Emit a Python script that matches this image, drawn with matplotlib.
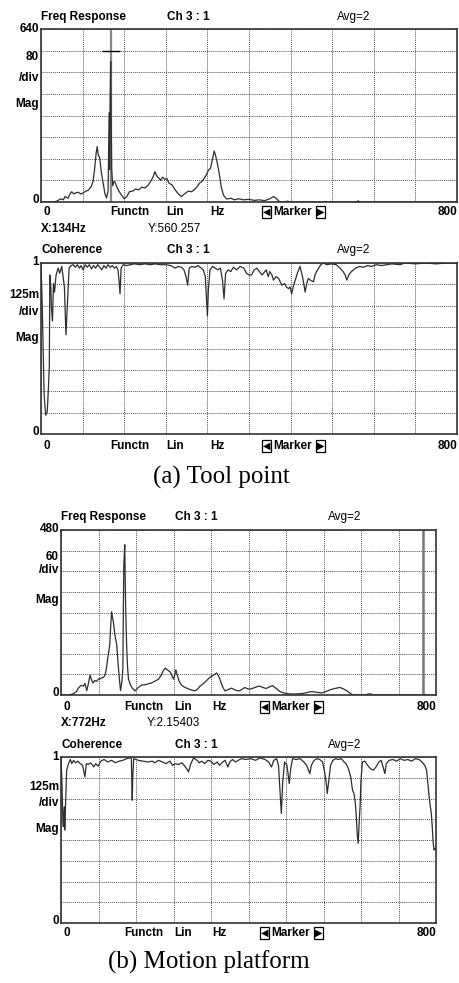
import matplotlib
matplotlib.use("Agg")
import matplotlib.pyplot as plt
import numpy as np

W, H = 459, 983

# ---------------------------------------------------------------------------
# Data: (frequency Hz, value)
# ---------------------------------------------------------------------------

fr_tool = [
    (0, 0), (25, 0), (30, 3), (38, 12), (43, 8), (46, 20), (52, 14), (56, 30), (59, 38),
    (63, 30), (67, 34), (72, 36), (76, 30), (80, 32), (86, 40), (91, 44), (96, 55),
    (100, 75), (103, 120), (106, 180), (108, 205), (110, 175), (113, 163), (116, 110),
    (120, 65), (123, 30), (126, 15), (129, 40), (131, 330), (132, 120), (133, 390),
    (134, 519), (135, 300), (136, 120), (138, 60), (140, 75), (142, 75), (146, 55),
    (150, 40), (155, 25), (160, 12), (165, 20), (170, 38), (176, 40), (182, 48),
    (188, 45), (194, 55), (200, 52), (206, 62), (212, 80), (216, 95), (219, 112),
    (223, 95), (227, 88), (230, 80), (234, 92), (238, 84), (242, 87), (246, 70),
    (252, 63), (258, 45), (264, 30), (270, 20), (276, 30), (283, 40), (290, 38),
    (296, 48), (301, 58), (305, 70), (309, 75), (313, 85), (318, 100), (322, 118),
    (326, 125), (330, 160), (333, 189), (336, 170), (340, 135), (344, 90), (347, 52),
    (351, 25), (357, 11), (365, 14), (372, 8), (380, 12), (390, 8), (400, 10),
    (410, 6), (420, 8), (430, 5), (440, 12), (447, 20), (452, 14), (458, 2), (466, 0),
    (474, 3), (480, 0), (605, 0), (610, 4), (614, 0), (800, 0),
]

coh_tool = [
    (0, 0.99), (2, 0.80), (4, 0.50), (6, 0.23), (9, 0.11), (12, 0.13), (14, 0.25),
    (16, 0.40), (17, 0.93), (19, 0.85), (20, 0.74), (22, 0.66), (24, 0.88), (26, 0.83),
    (29, 0.93), (33, 0.97), (36, 0.94), (40, 0.98), (45, 0.86), (48, 0.58), (51, 0.77),
    (54, 0.97), (58, 0.985), (62, 0.99), (66, 0.975), (70, 0.99), (74, 0.97),
    (77, 0.985), (81, 0.96), (85, 0.99), (89, 0.975), (93, 0.99), (97, 0.965),
    (101, 0.985), (105, 0.97), (109, 0.99), (113, 0.975), (117, 0.96), (121, 0.985),
    (125, 0.97), (129, 0.99), (133, 0.975), (137, 0.985), (141, 0.97), (145, 0.98),
    (148, 0.96), (150, 0.90), (152, 0.82), (154, 0.97), (158, 0.99), (165, 0.985),
    (172, 0.99), (180, 0.995), (190, 0.99), (200, 0.995), (210, 0.99), (220, 0.995),
    (230, 0.99), (240, 0.99), (250, 0.985), (258, 0.97), (264, 0.98), (270, 0.975),
    (275, 0.96), (279, 0.92), (282, 0.87), (285, 0.97), (290, 0.98), (296, 0.975),
    (302, 0.985), (308, 0.97), (312, 0.96), (316, 0.92), (318, 0.80), (320, 0.69),
    (322, 0.85), (325, 0.96), (330, 0.98), (335, 0.97), (340, 0.96), (345, 0.97),
    (349, 0.90), (352, 0.79), (355, 0.94), (360, 0.96), (365, 0.95), (370, 0.975),
    (376, 0.96), (383, 0.98), (390, 0.97), (395, 0.94), (400, 0.93), (405, 0.93),
    (410, 0.96), (415, 0.97), (420, 0.95), (425, 0.93), (428, 0.94), (433, 0.96),
    (437, 0.92), (440, 0.95), (444, 0.93), (447, 0.90), (452, 0.92), (457, 0.91),
    (460, 0.89), (463, 0.87), (468, 0.88), (472, 0.86), (476, 0.85), (479, 0.86),
    (482, 0.82), (485, 0.86), (488, 0.89), (493, 0.94), (498, 0.98), (503, 0.92),
    (508, 0.83), (511, 0.88), (514, 0.91), (518, 0.90), (524, 0.89), (527, 0.93),
    (530, 0.95), (534, 0.97), (538, 0.99), (543, 1.0), (550, 0.99), (558, 0.995),
    (568, 0.99), (575, 0.97), (581, 0.95), (585, 0.93), (588, 0.90), (592, 0.93),
    (597, 0.95), (605, 0.97), (613, 0.98), (620, 0.975), (628, 0.985), (636, 0.98),
    (645, 0.99), (655, 0.985), (665, 0.99), (675, 0.995), (690, 0.99), (700, 1.0),
    (720, 0.995), (740, 1.0), (760, 0.995), (780, 1.0), (800, 1.0),
]

fr_platform = [
    (0, 0), (16, 0), (25, 3), (33, 10), (37, 20), (43, 28), (48, 26), (51, 34),
    (55, 13), (58, 30), (62, 58), (65, 45), (68, 35), (72, 42), (76, 40), (80, 46),
    (85, 48), (91, 52), (94, 58), (97, 78), (100, 110), (104, 145), (106, 200),
    (108, 242), (110, 225), (112, 210), (115, 175), (119, 145), (122, 87), (125, 40),
    (127, 13), (130, 40), (132, 78), (133, 250), (134, 378), (136, 437), (137, 330),
    (138, 250), (140, 145), (142, 80), (144, 46), (148, 30), (152, 20), (158, 12),
    (165, 22), (172, 29), (180, 30), (187, 33), (193, 35), (200, 40), (208, 46),
    (214, 58), (218, 70), (222, 78), (226, 74), (230, 70), (233, 67), (237, 55),
    (240, 46), (243, 60), (245, 73), (248, 58), (252, 40), (257, 29), (262, 24),
    (268, 20), (275, 16), (280, 14), (286, 12), (292, 18), (296, 25), (300, 29),
    (306, 36), (312, 44), (318, 52), (323, 56), (328, 60), (332, 64), (335, 58),
    (339, 46), (343, 30), (347, 18), (350, 12), (357, 16), (364, 20), (372, 14),
    (380, 12), (386, 16), (392, 22), (398, 18), (403, 17), (410, 20), (418, 24),
    (424, 26), (430, 22), (438, 19), (445, 24), (452, 27), (458, 20), (467, 10),
    (475, 6), (488, 3), (500, 3), (513, 4), (522, 6), (530, 9), (535, 10), (545, 8),
    (556, 6), (565, 10), (574, 15), (584, 19), (595, 22), (602, 18), (609, 13),
    (616, 6), (623, 0), (650, 0), (655, 3), (662, 3), (665, 0), (800, 0),
]

coh_platform = [
    (0, 1.0), (2, 0.85), (4, 0.62), (5, 0.58), (7, 0.70), (8, 0.56), (10, 0.75),
    (12, 0.92), (16, 0.96), (20, 0.985), (23, 0.96), (27, 0.98), (31, 0.965),
    (36, 0.975), (41, 0.96), (46, 0.95), (51, 0.88), (54, 0.96), (58, 0.955),
    (63, 0.965), (70, 0.94), (74, 0.96), (79, 0.945), (85, 0.975), (92, 0.985),
    (100, 0.97), (108, 0.98), (116, 0.965), (124, 0.975), (132, 0.98), (140, 0.99),
    (148, 0.995), (150, 0.995), (151, 0.87), (152, 0.74), (153, 0.87), (155, 0.99),
    (165, 0.98), (175, 0.975), (185, 0.97), (195, 0.975), (200, 0.965), (208, 0.98),
    (216, 0.97), (224, 0.96), (232, 0.975), (238, 0.95), (243, 0.96), (250, 0.955),
    (258, 0.965), (264, 0.945), (268, 0.93), (272, 0.91), (277, 0.96), (283, 0.995),
    (290, 0.98), (295, 0.965), (300, 0.975), (307, 0.96), (313, 0.98), (320, 0.975),
    (326, 0.955), (333, 0.97), (338, 0.95), (343, 0.965), (350, 0.98), (356, 0.94),
    (360, 0.97), (366, 0.985), (372, 0.97), (378, 0.98), (385, 0.99), (395, 0.985),
    (405, 0.99), (415, 0.98), (425, 0.995), (435, 0.985), (443, 0.97), (449, 0.94),
    (454, 0.98), (460, 0.99), (464, 0.95), (467, 0.80), (470, 0.66), (473, 0.85),
    (477, 0.97), (482, 0.95), (487, 0.84), (490, 0.93), (494, 0.99), (502, 0.985),
    (510, 0.99), (518, 0.97), (524, 0.95), (528, 0.92), (531, 0.90), (534, 0.95),
    (540, 0.98), (546, 0.99), (552, 0.985), (558, 0.97), (563, 0.90), (566, 0.84),
    (568, 0.78), (571, 0.85), (575, 0.95), (580, 0.98), (586, 0.99), (592, 0.985),
    (598, 0.99), (604, 0.97), (608, 0.96), (613, 0.93), (618, 0.88), (622, 0.80),
    (625, 0.78), (628, 0.72), (630, 0.64), (632, 0.53), (634, 0.48), (636, 0.60),
    (638, 0.70), (640, 0.86), (643, 0.97), (648, 0.975), (654, 0.95), (660, 0.93),
    (666, 0.92), (672, 0.94), (678, 0.97), (683, 0.98), (688, 0.93), (691, 0.90),
    (694, 0.96), (700, 0.98), (708, 0.985), (716, 0.975), (724, 0.99), (732, 0.98),
    (740, 0.985), (748, 0.975), (756, 0.99), (764, 0.985), (770, 0.97), (776, 0.95),
    (780, 0.92), (784, 0.80), (787, 0.72), (790, 0.66), (792, 0.58), (794, 0.48),
    (796, 0.44), (798, 0.45), (800, 0.44),
]

# marker readouts
marker_tool = (134, 560.257)
marker_platform = (772, 2.15403)

FONT = ["Liberation Sans", "DejaVu Sans"]
SERIF = ["Liberation Serif", "DejaVu Serif"]
LINE = "#2e2e2e"

fig = plt.figure(figsize=(W / 100, H / 100), dpi=100)
fig.patch.set_facecolor("white")


def txt(x, y, s, ha="left", bold=True, size=8.5, **kw):
    fig.text(x / W, 1 - y / H, s, ha=ha, va="center", fontsize=size,
             fontweight="bold" if bold else "normal", family=FONT, **kw)


def panel(left, top, right, bottom, ymax, data):
    ax = fig.add_axes([left / W, 1 - bottom / H, (right - left) / W, (bottom - top) / H])
    f, v = np.array(data, dtype=float).T
    ax.plot(f, v, color=LINE, lw=0.9, zorder=3)
    ax.set_xlim(0, 800)
    ax.set_ylim(0, ymax)
    ax.set_xticks(np.arange(0, 801, 80))
    ax.set_yticks(np.linspace(0, ymax, 9))
    ax.grid(True, color="#555", lw=0.7, ls=(0, (1, 1)))
    ax.tick_params(length=0, labelbottom=False, labelleft=False)
    for sp in ax.spines.values():
        sp.set_color("#333")
        sp.set_linewidth(1.2)
    ax.set_facecolor("white")
    return ax


def labels(left, right, ytitle, title, ylabels, xrow, xpos):
    txt(left, ytitle, title)
    txt(xpos["ch"], ytitle, "Ch 3 : 1")
    txt(xpos["avg"], ytitle, "Avg=2", bold=False)
    for s, y in ylabels:
        txt(left - 2, y, s, ha="right")
    # bottom row
    txt(left + 2, xrow, "0")
    txt(xpos["functn"], xrow, "Functn")
    txt(xpos["lin"], xrow, "Lin")
    txt(xpos["hz"], xrow, "Hz")
    box = dict(boxstyle="square,pad=0.08", fc="white", ec="black", lw=0.9)
    fig.text(xpos["mk"] / W, 1 - xrow / H, "\u25c0", ha="left", va="center",
             fontsize=7, family=["DejaVu Sans"], bbox=box)
    txt(xpos["mk"] + 10, xrow, "Marker")
    fig.text((xpos["mk"] + 54) / W, 1 - xrow / H, "\u25b6", ha="left", va="center",
             fontsize=7, family=["DejaVu Sans"], bbox=box)
    txt(right, xrow, "800", ha="right")


# (a) tool point ------------------------------------------------------------
pa = dict(ch=167, avg=337, functn=110, lin=166, hz=210, mk=263)
ax1 = panel(41, 29, 457, 202, 640, fr_tool)
ax1.axvline(marker_tool[0], color="#888", lw=1.6, zorder=2)
ax1.hlines(marker_tool[1], marker_tool[0] - 17, marker_tool[0] + 18, color="black", lw=1, zorder=4)
labels(41, 457, 17, "Freq Response",
       [("640", 29), ("80", 57), ("/div", 78), ("Mag", 104), ("0", 200)], 212, pa)
txt(41, 229, "X:%dHz" % marker_tool[0])
txt(148, 229, "Y:%.3f" % marker_tool[1], bold=False)

ax2 = panel(41, 263, 457, 434, 1.0, coh_tool)
labels(41, 457, 250, "Coherence",
       [("1", 262), ("125m", 295), ("/div", 312), ("Mag", 338), ("0", 432)], 446, pa)

fig.text(221 / W, 1 - 477 / H, "(a) Tool point", ha="center", va="center",
         fontsize=18, family=SERIF)

# (b) motion platform -------------------------------------------------------
pb = dict(ch=175, avg=328, functn=124, lin=174, hz=212, mk=261)
ax3 = panel(61, 530, 436, 695, 480, fr_platform)
ax3.axvline(marker_platform[0], color="#777", lw=1.8, zorder=2)
labels(61, 436, 517, "Freq Response",
       [("480", 529), ("60", 557), ("/div", 570), ("Mag", 600), ("0", 693)], 707, pb)
txt(61, 723, "X:%dHz" % marker_platform[0])
txt(147, 723, "Y:%.5f" % marker_platform[1], bold=False)

ax4 = panel(61, 757, 436, 923, 1.0, coh_platform)
labels(61, 436, 745, "Coherence",
       [("1", 757), ("125m", 787), ("/div", 803), ("Mag", 829), ("0", 921)], 933, pb)

fig.text(209 / W, 1 - 962 / H, "(b) Motion platform", ha="center", va="center",
         fontsize=18, family=SERIF)

fig.savefig("out.png", dpi=100)
